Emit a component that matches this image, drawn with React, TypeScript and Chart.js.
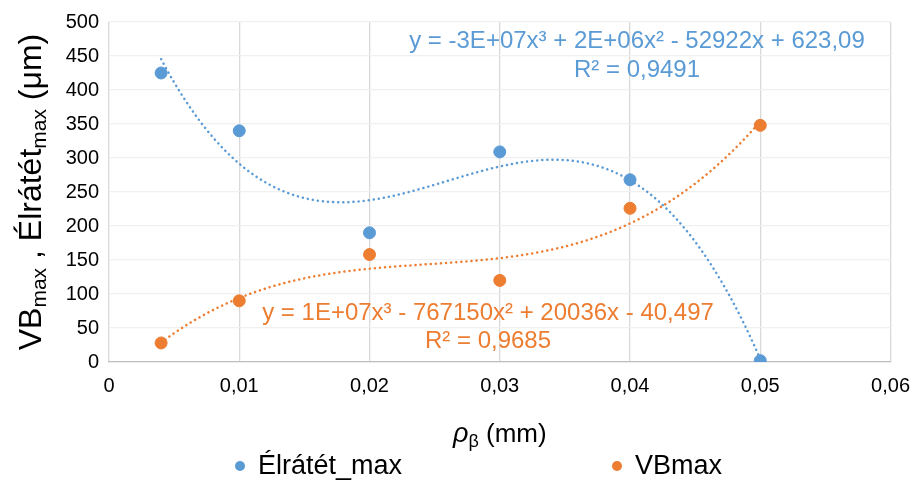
import React, { useEffect, useRef } from "react";
import { Chart, registerables } from "chart.js";

Chart.register(...registerables);

const xValues = [0.004, 0.01, 0.02, 0.03, 0.04, 0.05];
const elratetMax = [425, 340, 190, 309, 268, 2];
const vbMax = [28, 90, 158, 120, 226, 348];
const seriesNames = ["Élrátét_max", "VBmax"];
const blueEq = ["y = -3E+07x³ + 2E+06x² - 52922x + 623,09", "R² = 0,9491"];
const orangeEq = ["y = 1E+07x³ - 767150x² + 20036x - 40,497", "R² = 0,9685"];

const BLUE = "#5b9bd5";
const ORANGE = "#ed7d31";
const FONT = "'Liberation Sans', Arial, sans-serif";

function cubicFit(xs: number[], ys: number[]) {
  const n = 4;
  const A: number[][] = Array.from({ length: n }, () => new Array(n + 1).fill(0));
  xs.forEach((x, k) => {
    const u = x * 100;
    for (let i = 0; i < n; i++) {
      for (let j = 0; j < n; j++) A[i][j] += Math.pow(u, i + j);
      A[i][n] += Math.pow(u, i) * ys[k];
    }
  });
  for (let c = 0; c < n; c++) {
    let p = c;
    for (let r = c + 1; r < n; r++) if (Math.abs(A[r][c]) > Math.abs(A[p][c])) p = r;
    [A[c], A[p]] = [A[p], A[c]];
    for (let r = 0; r < n; r++) {
      if (r === c) continue;
      const f = A[r][c] / A[c][c];
      for (let j = c; j <= n; j++) A[r][j] -= f * A[c][j];
    }
  }
  const coef = A.map((row, i) => row[n] / row[i]);
  return (x: number) => {
    const u = x * 100;
    return coef[0] + coef[1] * u + coef[2] * u * u + coef[3] * u * u * u;
  };
}

function trendPoints(xs: number[], ys: number[]) {
  const f = cubicFit(xs, ys);
  const lo = Math.min(...xs);
  const hi = Math.max(...xs);
  const pts: { x: number; y: number }[] = [];
  const N = 120;
  for (let i = 0; i <= N; i++) {
    const x = lo + ((hi - lo) * i) / N;
    pts.push({ x, y: f(x) });
  }
  return pts;
}

const decorPlugin = {
  id: "decor",
  afterDraw(chart: any) {
    const ctx = chart.ctx as CanvasRenderingContext2D;
    const xs = chart.scales.x;
    const ys = chart.scales.y;
    ctx.save();
    // equations
    ctx.textAlign = "center";
    ctx.textBaseline = "middle";
    ctx.font = `24px ${FONT}`;
    ctx.fillStyle = BLUE;
    ctx.fillText(blueEq[0], 637, 41);
    ctx.fillText(blueEq[1], 637, 70);
    ctx.fillStyle = ORANGE;
    ctx.fillText(orangeEq[0], 488, 313);
    ctx.fillText(orangeEq[1], 488, 341);

    // y axis title (rotated)
    ctx.fillStyle = "#000";
    const yParts: [string, boolean][] = [
      ["VB", false],
      ["max", true],
      [" , Élrátét", false],
      ["max", true],
      [" (μm)", false],
    ];
    const big = `32px ${FONT}`;
    const small = `21px ${FONT}`;
    let total = 0;
    yParts.forEach(([t, s]) => {
      ctx.font = s ? small : big;
      total += ctx.measureText(t).width;
    });
    ctx.translate(30, (ys.top + ys.bottom) / 2);
    ctx.rotate(-Math.PI / 2);
    ctx.textAlign = "left";
    ctx.textBaseline = "alphabetic";
    let cx = -total / 2;
    yParts.forEach(([t, s]) => {
      ctx.font = s ? small : big;
      ctx.fillText(t, cx, s ? 16 : 11);
      cx += ctx.measureText(t).width;
    });
    ctx.setTransform(1, 0, 0, 1, 0, 0);

    // x axis title
    const xParts: [string, string, number][] = [
      ["ρ", `italic 27px ${FONT}`, 0],
      ["β", `18px ${FONT}`, 5],
      [" (mm)", `26px ${FONT}`, 0],
    ];
    total = 0;
    xParts.forEach(([t, f]) => {
      ctx.font = f;
      total += ctx.measureText(t).width;
    });
    cx = (xs.left + xs.right) / 2 - total / 2;
    xParts.forEach(([t, f, dy]) => {
      ctx.font = f;
      ctx.fillText(t, cx, 442 + dy);
      cx += ctx.measureText(t).width;
    });

    // legend
    const items: [string, string, number][] = [
      [seriesNames[0], BLUE, 240],
      [seriesNames[1], ORANGE, 617],
    ];
    items.forEach(([t, c, x]) => {
      ctx.fillStyle = c;
      ctx.beginPath();
      ctx.arc(x, 466, 5, 0, Math.PI * 2);
      ctx.fill();
      ctx.fillStyle = "#000";
      ctx.font = `27px ${FONT}`;
      ctx.textBaseline = "middle";
      ctx.fillText(t, x + 18, 467);
    });
    ctx.restore();
  },
};

export default function App() {
  const ref = useRef<HTMLCanvasElement>(null);
  useEffect(() => {
    document.body.style.margin = "0";
    const blueTrend = trendPoints(xValues, elratetMax);
    const orangeTrend = trendPoints(xValues, vbMax);
    const chart = new Chart(ref.current!, {
      type: "scatter",
      data: {
        datasets: [
          {
            label: "trend1",
            data: blueTrend,
            showLine: true,
            borderColor: BLUE,
            borderWidth: 2.5,
            borderDash: [0.1, 5],
            borderCapStyle: "round",
            pointRadius: 0,
            fill: false,
          } as any,
          {
            label: "trend2",
            data: orangeTrend,
            showLine: true,
            borderColor: ORANGE,
            borderWidth: 2.5,
            borderDash: [0.1, 5],
            borderCapStyle: "round",
            pointRadius: 0,
            fill: false,
          } as any,
          {
            label: seriesNames[0],
            data: xValues.map((x, i) => ({ x, y: elratetMax[i] })),
            backgroundColor: BLUE,
            borderColor: BLUE,
            pointRadius: 6,
          },
          {
            label: seriesNames[1],
            data: xValues.map((x, i) => ({ x, y: vbMax[i] })),
            backgroundColor: ORANGE,
            borderColor: ORANGE,
            pointRadius: 6,
          },
        ],
      },
      options: {
        animation: false,
        responsive: false,
        layout: { padding: { top: 20, right: 24, left: 0, bottom: 0 } },
        plugins: { legend: { display: false }, tooltip: { enabled: false } },
        scales: {
          x: {
            type: "linear",
            min: 0,
            max: 0.06,
            afterFit: (s: any) => {
              s.height = 127;
            },
            ticks: {
              stepSize: 0.01,
              padding: 12,
              color: "#000",
              font: { family: FONT, size: 20 },
              callback: (v: any) => (Math.round(Number(v) * 100) / 100).toString().replace(".", ","),
            },
            grid: { color: "#d9d9d9", lineWidth: 1.3, drawTicks: false },
            border: { color: "#bfbfbf", width: 1.3 },
          },
          y: {
            min: 0,
            max: 500,
            afterFit: (s: any) => {
              s.width = 109;
            },
            ticks: {
              stepSize: 50,
              padding: 10,
              color: "#000",
              font: { family: FONT, size: 20 },
            },
            grid: { color: "#f0f0f0", lineWidth: 1.3, drawTicks: false },
            border: { display: false },
          },
        },
      },
      plugins: [decorPlugin],
    });
    return () => chart.destroy();
  }, []);
  return (
    <div style={{ width: 922, height: 489, background: "#fff" }}>
      <canvas ref={ref} width={922} height={489} />
    </div>
  );
}
